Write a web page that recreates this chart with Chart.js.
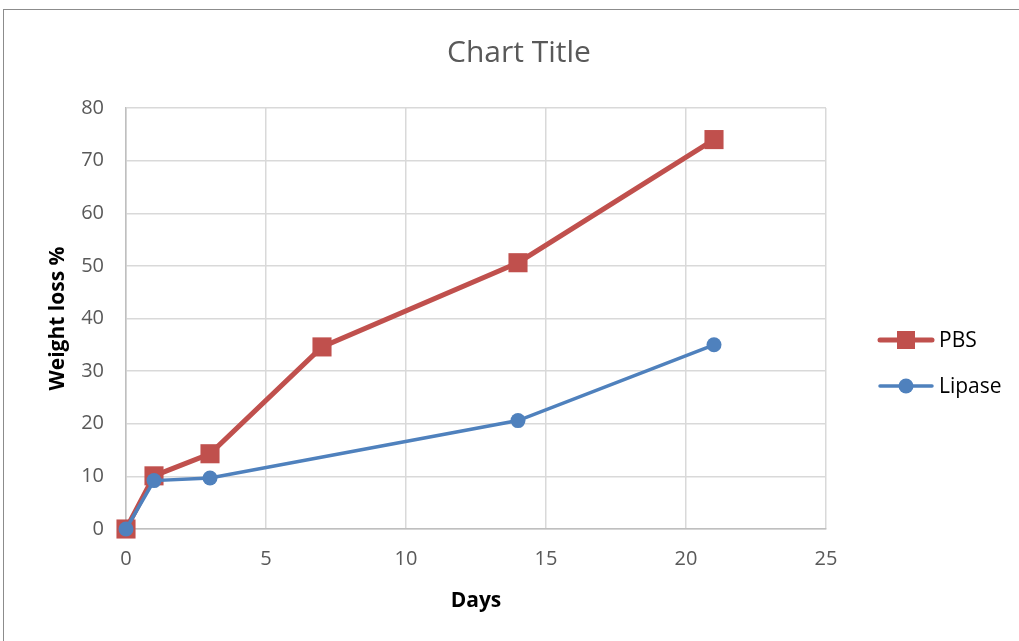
<!DOCTYPE html>
<html>
<head>
<meta charset="utf-8">
<script src="https://cdn.jsdelivr.net/npm/chart.js@4/dist/chart.umd.min.js"></script>
<style>
  html, body { margin: 0; padding: 0; background: #ffffff; }
  #wrap { position: relative; width: 1019px; height: 641px; overflow: hidden; }
  #frame { position: absolute; left: 3px; top: 9px; width: 1030px; height: 650px;
           border: 1px solid #8c8c8c; box-sizing: border-box; pointer-events: none; }
  canvas { position: absolute; left: 0; top: 0; }
</style>
</head>
<body>
<div id="wrap">
  <canvas id="chart" width="1019" height="641"></canvas>
  <div id="frame"></div>
</div>
<script>
// Sampling days and measured weight loss (%)
const days = [0, 1, 3, 7, 14, 21];
const pbsLoss = [0, 10.1, 14.3, 34.6, 50.6, 74.0];
const lipaseLoss = [0, 9.2, 9.7, null, 20.6, 35.0];

const xTicks = [0, 5, 10, 15, 20, 25];
const yTicks = [0, 10, 20, 30, 40, 50, 60, 70, 80];

const chartTitle = 'Chart Title';
const seriesNames = ['PBS', 'Lipase'];

const FONT = '"Open Sans", Lato, sans-serif';
const GREY_TEXT = '#595959';

function toPoints(values) {
  return days.map((d, i) => ({ x: d, y: values[i] }));
}

// Title and right-hand legend drawn on the canvas
const decorations = {
  id: 'decorations',
  afterDraw(chart) {
    const ctx = chart.ctx;
    ctx.save();
    ctx.fillStyle = GREY_TEXT;
    ctx.font = '30px ' + FONT;
    ctx.textAlign = 'center';
    ctx.textBaseline = 'middle';
    ctx.fillText(chartTitle, 519, 53);

    const rows = [340, 386];
    chart.data.datasets.forEach((ds, i) => {
      const y = rows[i];
      ctx.strokeStyle = ds.borderColor;
      ctx.lineWidth = ds.borderWidth;
      ctx.lineCap = 'round';
      ctx.beginPath();
      ctx.moveTo(880, y);
      ctx.lineTo(932, y);
      ctx.stroke();
      ctx.fillStyle = ds.pointBackgroundColor;
      if (ds.pointStyle === 'rect') {
        ctx.fillRect(906 - 9, y - 9, 18, 18);
      } else {
        ctx.beginPath();
        ctx.arc(906, y, 7.5, 0, Math.PI * 2);
        ctx.fill();
      }
      ctx.fillStyle = '#000000';
      ctx.font = '21px ' + FONT;
      ctx.textAlign = 'left';
      ctx.fillText(ds.label, 939, y + 1);
    });
    ctx.restore();
  }
};

new Chart(document.getElementById('chart'), {
  type: 'line',
  data: {
    datasets: [
      {
        label: seriesNames[0],
        data: toPoints(pbsLoss),
        order: 1,
        borderColor: '#c0504d',
        backgroundColor: '#c0504d',
        pointBackgroundColor: '#c0504d',
        pointBorderColor: '#c0504d',
        borderWidth: 5,
        pointStyle: 'rect',
        pointRadius: 13.5,
        pointBorderWidth: 0,
        clip: false,
        tension: 0
      },
      {
        label: seriesNames[1],
        data: toPoints(lipaseLoss),
        order: 0,
        borderColor: '#4f81bd',
        backgroundColor: '#4f81bd',
        pointBackgroundColor: '#4f81bd',
        pointBorderColor: '#4f81bd',
        borderWidth: 3.5,
        pointStyle: 'circle',
        pointRadius: 7.5,
        pointBorderWidth: 0,
        spanGaps: true,
        clip: false,
        tension: 0
      }
    ]
  },
  options: {
    responsive: false,
    animation: false,
    layout: { padding: { left: 0, right: 193, top: 108, bottom: 0 } },
    plugins: {
      legend: { display: false },
      title: { display: false },
      tooltip: { enabled: false }
    },
    scales: {
      x: {
        type: 'linear',
        min: xTicks[0],
        max: xTicks[xTicks.length - 1],
        afterFit(scale) { scale.height = 112; },
        afterBuildTicks(scale) { scale.ticks = xTicks.map(v => ({ value: v })); },
        grid: { color: '#d9d9d9', lineWidth: 1.5, drawTicks: false },
        border: { color: '#bfbfbf', width: 1.5 },
        ticks: { color: GREY_TEXT, font: { family: FONT, size: 20 }, padding: 18 },
        title: { display: true, text: 'Days', color: '#000000',
                 font: { family: FONT, size: 21, weight: 'bold' }, padding: { top: 0, bottom: 27 } }
      },
      y: {
        type: 'linear',
        min: yTicks[0],
        max: yTicks[yTicks.length - 1],
        afterFit(scale) { scale.width = 126; },
        afterBuildTicks(scale) { scale.ticks = yTicks.map(v => ({ value: v })); },
        grid: { color: '#d9d9d9', lineWidth: 1.5, drawTicks: false },
        border: { color: '#bfbfbf', width: 1.5 },
        ticks: { color: GREY_TEXT, font: { family: FONT, size: 20 }, padding: 22 },
        title: { display: true, text: 'Weight loss %', color: '#000000',
                 font: { family: FONT, size: 21, weight: 'bold' }, padding: { top: 45, bottom: 0 } }
      }
    }
  },
  plugins: [decorations]
});
</script>
</body>
</html>
